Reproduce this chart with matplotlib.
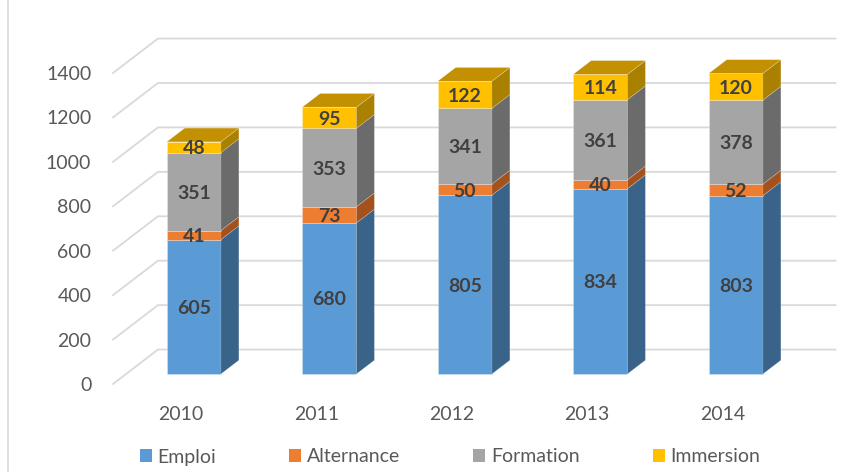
import matplotlib.pyplot as plt
from matplotlib.patches import Polygon, Patch
from matplotlib.lines import Line2D

YEARS = ["2010", "2011", "2012", "2013", "2014"]
SERIES = ["Emploi", "Alternance", "Formation", "Immersion"]
EMPLOI = [605, 680, 805, 834, 803]
ALTERNANCE = [41, 73, 50, 40, 52]
FORMATION = [351, 353, 341, 361, 378]
IMMERSION = [48, 95, 122, 114, 120]
YTICKS = [0, 200, 400, 600, 800, 1000, 1200, 1400]

FRONT = ["#5B9BD5", "#ED7D31", "#A5A5A5", "#FFC000"]
SIDE = ["#3A6389", "#A3521E", "#6B6B6B", "#A98000"]
TOP_COL = "#C29000"
GRID = "#D9D9D9"
TXT = "#595959"
LBL = "#404040"

plt.rcParams["font.family"] = ["Lato", "DejaVu Sans"]

W, H = 861, 472
fig = plt.figure(figsize=(W / 100, H / 100), dpi=100)
# front plane of the 3D floor: x -0.5..4.5, y 0..1400
ax = fig.add_axes([113 / W, (H - 384) / H, 677.5 / W, 311 / H])
ax.set_xlim(-0.5, len(YEARS) - 0.5)
ax.set_ylim(0, 1400)
ax.axis("off")

# full floor depth expressed in data units
DX, DY = 0.332, 155.0
F0, F1 = 0.29, 0.69  # bar front / back depth fractions
BW = 0.40  # bar width (categories)

# back wall gridlines with left-wall diagonals
for v in YTICKS:
    ax.add_line(Line2D([-0.5, -0.5 + DX, len(YEARS) - 0.5 + DX],
                       [v, v + DY, v + DY], color=GRID, lw=1.3,
                       clip_on=False, zorder=1))
    ax.text(-0.5 - 0.16, v, str(v), ha="right", va="center_baseline",
            fontsize=14, color=TXT)

for i, y in enumerate(YEARS):
    ax.text(i, -130, y, ha="center", va="center_baseline", fontsize=14,
            color=TXT)

stack = [EMPLOI, ALTERNANCE, FORMATION, IMMERSION]
for i in range(len(YEARS)):
    x0 = i - BW / 2 + F0 * DX
    x1 = x0 + BW
    ox = (F1 - F0) * DX
    oy = (F1 - F0) * DY
    base = 0
    for k, vals in enumerate(stack):
        v = vals[i]
        b = base + F0 * DY
        t = b + v
        ax.add_patch(Polygon([(x0, b), (x1, b), (x1, t), (x0, t)],
                             closed=True, fc=FRONT[k], ec=(1, 1, 1, 0.35),
                             lw=0.5, clip_on=False, zorder=3))
        ax.add_patch(Polygon([(x1, b), (x1 + ox, b + oy), (x1 + ox, t + oy),
                              (x1, t)], closed=True, fc=SIDE[k],
                             ec=(1, 1, 1, 0.25), lw=0.5, clip_on=False,
                             zorder=3))
        ax.text((x0 + x1) / 2, (b + t) / 2, str(v), ha="center",
                va="center_baseline", fontsize=14, fontweight="bold",
                color=LBL, zorder=5)
        base += v
    t = base + F0 * DY
    ax.add_patch(Polygon([(x0, t), (x1, t), (x1 + ox, t + oy),
                          (x0 + ox, t + oy)], closed=True, fc=TOP_COL,
                         ec=(1, 1, 1, 0.3), lw=0.5, clip_on=False, zorder=4))

handles = [Patch(fc=c, ec="none") for c in FRONT]
fig.legend(handles, SERIES, loc="center", bbox_to_anchor=(450 / W, 1 - 457 / H),
           ncol=4, frameon=False, fontsize=14, handlelength=0.62,
           handleheight=0.62, handletextpad=0.3, columnspacing=3.75,
           labelcolor=TXT)

# chart area border (left edge visible)
fig.add_artist(Line2D([8 / W, 8 / W], [0, 1], color=GRID, lw=1.2))

fig.savefig("out.png", dpi=100)
